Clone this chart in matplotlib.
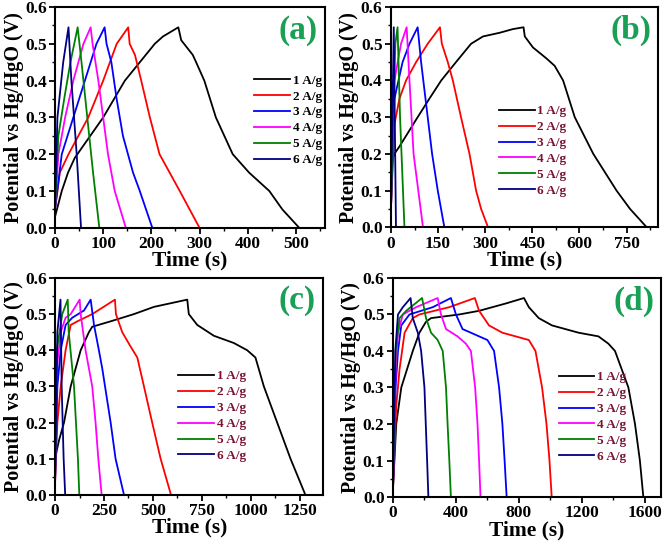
import matplotlib
matplotlib.use("Agg")
import matplotlib.pyplot as plt
from matplotlib.ticker import AutoMinorLocator, MultipleLocator

plt.rcParams['font.family'] = ['Liberation Serif', 'DejaVu Serif']
plt.rcParams['font.weight'] = 'bold'

labels = ["1 A/g", "2 A/g", "3 A/g", "4 A/g", "5 A/g", "6 A/g"]
colors = ["#000000", "#ff0000", "#0000ff", "#ff00ff", "#008000", "#000080"]

# panel (a)
time_a = [
    [0, 14, 27, 41, 100, 145, 207, 224, 256, 262, 286, 293, 310, 334, 369, 403, 445, 472, 507],
    [0, 10, 28, 69, 100, 114, 128, 152, 155, 166, 179, 197, 217, 238, 259, 300],
    [0, 14, 38, 62, 86, 103, 107, 117, 128, 141, 162, 176, 202],
    [0, 7, 21, 38, 59, 74, 78, 90, 100, 110, 124, 147],
    [0, 7, 19, 32, 47, 55, 67, 79, 92],
    [0, 5, 17, 28, 34, 45, 54],
]
volt_a = [
    [0.03, 0.10, 0.15, 0.19, 0.30, 0.40, 0.50, 0.52, 0.545, 0.51, 0.47, 0.45, 0.40, 0.30, 0.20, 0.15, 0.10, 0.05, 0.0],
    [0.05, 0.15, 0.20, 0.30, 0.40, 0.45, 0.50, 0.545, 0.50, 0.47, 0.40, 0.30, 0.20, 0.15, 0.10, 0.0],
    [0.05, 0.20, 0.30, 0.40, 0.50, 0.545, 0.50, 0.45, 0.35, 0.25, 0.15, 0.10, 0.0],
    [0.05, 0.20, 0.30, 0.40, 0.50, 0.545, 0.50, 0.40, 0.30, 0.20, 0.10, 0.0],
    [0.05, 0.25, 0.35, 0.45, 0.545, 0.45, 0.30, 0.15, 0.0],
    [0.05, 0.30, 0.45, 0.545, 0.40, 0.20, 0.0],
]

# panel (b)
time_b = [
    [0, 11, 27, 85, 122, 160, 207, 255, 293, 346, 388, 422, 426, 452, 495, 521, 548, 585, 644, 718, 761, 814],
    [0, 11, 27, 48, 80, 117, 156, 162, 181, 197, 223, 250, 271, 287, 309],
    [0, 11, 37, 59, 85, 96, 117, 131, 149, 170],
    [0, 11, 32, 50, 59, 72, 102],
    [0, 14, 21, 29, 43],
    [0, 9, 16],
]
volt_b = [
    [0.17, 0.20, 0.22, 0.30, 0.35, 0.40, 0.45, 0.50, 0.52, 0.53, 0.54, 0.545, 0.52, 0.49, 0.46, 0.44, 0.40, 0.30, 0.20, 0.10, 0.05, 0.0],
    [0.05, 0.28, 0.35, 0.40, 0.45, 0.50, 0.545, 0.50, 0.45, 0.40, 0.30, 0.20, 0.10, 0.05, 0.0],
    [0.05, 0.35, 0.45, 0.50, 0.545, 0.45, 0.30, 0.20, 0.10, 0.0],
    [0.05, 0.40, 0.50, 0.545, 0.40, 0.20, 0.0],
    [0.05, 0.50, 0.545, 0.30, 0.0],
    [0.05, 0.545, 0.0],
]

# panel (c)
time_c = [
    [0, 20, 46, 80, 131, 173, 190, 284, 403, 505, 590, 675, 683, 726, 811, 913, 981, 1023, 1066, 1100, 1134, 1202, 1278],
    [0, 12, 29, 54, 80, 114, 190, 306, 311, 343, 386, 420, 454, 496, 539, 592],
    [0, 12, 29, 54, 88, 148, 182, 199, 224, 241, 284, 309, 352],
    [0, 9, 29, 54, 80, 126, 131, 156, 190, 207, 221, 238],
    [0, 9, 37, 65, 70, 97, 117, 124],
    [0, 12, 28, 34, 44, 52],
]
volt_c = [
    [0.10, 0.15, 0.20, 0.30, 0.40, 0.45, 0.465, 0.48, 0.50, 0.52, 0.53, 0.54, 0.50, 0.47, 0.44, 0.42, 0.40, 0.38, 0.30, 0.25, 0.20, 0.10, 0.0],
    [0.03, 0.20, 0.30, 0.40, 0.47, 0.48, 0.50, 0.54, 0.50, 0.45, 0.41, 0.38, 0.30, 0.20, 0.10, 0.0],
    [0.03, 0.30, 0.40, 0.47, 0.49, 0.51, 0.54, 0.47, 0.40, 0.35, 0.20, 0.10, 0.0],
    [0.03, 0.35, 0.45, 0.49, 0.50, 0.54, 0.50, 0.40, 0.30, 0.20, 0.10, 0.0],
    [0.03, 0.40, 0.50, 0.54, 0.45, 0.30, 0.10, 0.0],
    [0.03, 0.45, 0.54, 0.30, 0.10, 0.0],
]

# panel (d)
time_d = [
    [0, 21, 53, 126, 168, 210, 242, 421, 547, 716, 832, 863, 926, 1010, 1179, 1305, 1368, 1410, 1495, 1537, 1568, 1590],
    [0, 21, 42, 74, 126, 168, 358, 520, 547, 610, 695, 863, 905, 947, 975, 994, 1008],
    [0, 17, 32, 53, 105, 253, 368, 400, 442, 495, 600, 642, 674, 695, 709, 722],
    [0, 17, 32, 63, 147, 284, 305, 337, 410, 463, 495, 522, 537, 547, 556],
    [0, 17, 42, 84, 185, 210, 242, 284, 316, 337, 347, 358, 368],
    [0, 15, 32, 63, 112, 126, 158, 179, 200, 217, 225],
]
volt_d = [
    [0.02, 0.20, 0.30, 0.40, 0.45, 0.48, 0.49, 0.50, 0.51, 0.53, 0.545, 0.52, 0.49, 0.47, 0.45, 0.44, 0.42, 0.40, 0.30, 0.20, 0.10, 0.0],
    [0.02, 0.25, 0.35, 0.45, 0.49, 0.50, 0.52, 0.545, 0.51, 0.47, 0.45, 0.43, 0.40, 0.30, 0.20, 0.10, 0.0],
    [0.02, 0.30, 0.40, 0.47, 0.50, 0.52, 0.545, 0.50, 0.46, 0.45, 0.43, 0.40, 0.30, 0.20, 0.10, 0.0],
    [0.02, 0.35, 0.45, 0.50, 0.52, 0.545, 0.50, 0.46, 0.44, 0.42, 0.40, 0.30, 0.20, 0.10, 0.0],
    [0.02, 0.40, 0.49, 0.51, 0.545, 0.49, 0.45, 0.43, 0.40, 0.30, 0.20, 0.10, 0.0],
    [0.02, 0.40, 0.50, 0.52, 0.545, 0.49, 0.45, 0.40, 0.30, 0.10, 0.0],
]

panels = [
    ("(a)", time_a, volt_a, [0.0826, 0.582, 0.405, 0.405], 560, 100, "black", (0.715, 0.725)),
    ("(b)", time_b, volt_b, [0.587, 0.583, 0.401, 0.404], 850, 150, "#7a1230", (0.38, 0.585)),
    ("(c)", time_c, volt_c, [0.0826, 0.092, 0.403, 0.398], 1370, 250, "#7a1230", (0.435, 0.605)),
    ("(d)", time_d, volt_d, [0.590, 0.088, 0.402, 0.402], 1700, 400, "#7a1230", (0.595, 0.605)),
]

fig = plt.figure(figsize=(6.66, 5.45), dpi=100)

for tag, times, volts, rect, xmax, xstep, txtcol, legpos in panels:
    ax = fig.add_axes(rect)
    for t, v, lab, c in zip(times, volts, labels, colors):
        ax.plot(t, v, color=c, lw=1.3, label=lab)
    ax.set_xlim(0, xmax)
    ax.set_ylim(0, 0.6)
    ax.xaxis.set_major_locator(MultipleLocator(xstep))
    ax.yaxis.set_major_locator(MultipleLocator(0.1))
    ax.xaxis.set_minor_locator(AutoMinorLocator(2))
    ax.yaxis.set_minor_locator(AutoMinorLocator(2))
    ax.yaxis.set_major_formatter(plt.FormatStrFormatter('%.1f'))
    ax.tick_params(which='major', direction='out', length=4, width=1.3, labelsize=12.5, pad=2)
    ax.tick_params(which='minor', direction='out', length=2.5, width=1.0)
    for s in ax.spines.values():
        s.set_linewidth(1.5)
    ax.set_xlabel("Time (s)", fontsize=15.5, fontweight='bold', labelpad=-1)
    ax.set_ylabel("Potential vs Hg/HgO (V)", fontsize=14.5, fontweight='bold', labelpad=1)
    ax.text(0.90, 0.895, tag, transform=ax.transAxes, fontsize=24, fontweight='bold',
            color="#1aa055", ha='center', va='center')
    leg = ax.legend(loc='upper left', bbox_to_anchor=legpos, frameon=False, fontsize=9.5,
                    handlelength=2.7, handletextpad=0.2, labelspacing=0.28, borderpad=0)
    for txt in leg.get_texts():
        txt.set_color(txtcol)

fig.savefig("out.png", dpi=100)
